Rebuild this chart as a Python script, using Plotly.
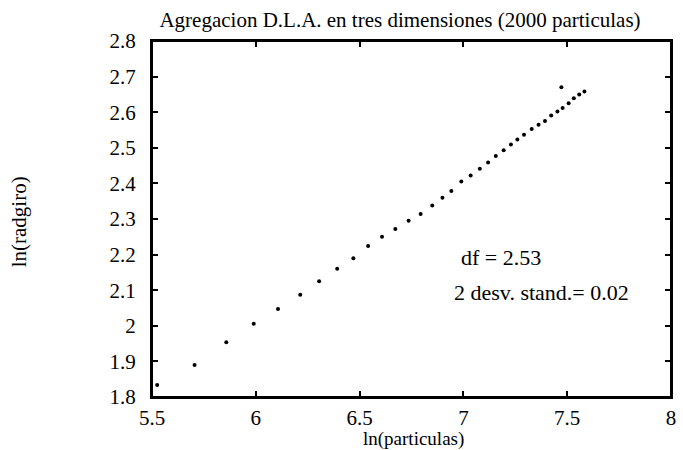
import plotly.graph_objects as go

# ln(particulas) and ln(radgiro)
ln_particulas = [5.525, 5.705, 5.858, 5.990, 6.107, 6.214, 6.305, 6.392, 6.470, 6.541,
                 6.608, 6.672, 6.736, 6.794, 6.850, 6.899, 6.942, 6.990, 7.035, 7.079,
                 7.119, 7.156, 7.194, 7.229, 7.260, 7.292, 7.329, 7.362, 7.393, 7.423,
                 7.453, 7.478, 7.507, 7.532, 7.558, 7.583, 7.472]
ln_radgiro = [1.834, 1.890, 1.954, 2.006, 2.047, 2.087, 2.125, 2.160, 2.190, 2.224,
              2.250, 2.272, 2.295, 2.314, 2.338, 2.360, 2.379, 2.405, 2.422, 2.441,
              2.459, 2.477, 2.493, 2.509, 2.523, 2.537, 2.553, 2.565, 2.575, 2.591,
              2.602, 2.612, 2.625, 2.639, 2.650, 2.658, 2.670]

x_ticks = [5.5, 6, 6.5, 7, 7.5, 8]
x_ticktext = ["5.5", "6", "6.5", "7", "7.5", "8"]
y_ticks = [1.8, 1.9, 2.0, 2.1, 2.2, 2.3, 2.4, 2.5, 2.6, 2.7, 2.8]
y_ticktext = ["1.8", "1.9", "2", "2.1", "2.2", "2.3", "2.4", "2.5", "2.6", "2.7", "2.8"]

title_text = "Agregacion D.L.A. en tres dimensiones (2000 particulas)"
x_title = "ln(particulas)"
y_title = "ln(radgiro)"
note_df = "df = 2.53"
note_sd = "2 desv. stand.= 0.02"

FONT = "Liberation Serif"
W, H = 683, 450
L, R, T, B = 152, 7, 41, 53
PW, PH = W - L - R, H - T - B


def fx(p):
    """pixel column -> paper fraction"""
    return (p - L) / PW


def fy(p):
    """pixel row -> paper fraction"""
    return (H - B - p) / PH


fig = go.Figure()
fig.add_trace(go.Scatter(
    x=ln_particulas, y=ln_radgiro, mode="markers",
    marker=dict(size=4, color="black"),
    showlegend=False, hoverinfo="x+y",
))

axis_common = dict(
    showgrid=False, zeroline=False, showline=True, linecolor="black", linewidth=2,
    mirror="ticks", ticks="inside", ticklen=6, tickwidth=2, tickcolor="black",
    tickfont=dict(family=FONT, size=21, color="black"),
)

fig.update_layout(
    width=W, height=H,
    margin=dict(l=L, r=R, t=T, b=B),
    paper_bgcolor="white", plot_bgcolor="white",
    font=dict(family=FONT, color="black"),
    title=dict(text=title_text, x=400 / W, xref="container", xanchor="center",
               y=1 - 20 / H, yref="container", yanchor="middle",
               font=dict(family=FONT, size=21, color="black")),
    xaxis=dict(range=[5.5, 8], tickvals=x_ticks, ticktext=x_ticktext,
               ticklabelstandoff=1, **axis_common),
    yaxis=dict(range=[1.8, 2.8], tickvals=y_ticks, ticktext=y_ticktext,
               ticklabelstandoff=10, **axis_common),
    shapes=[dict(type="rect", xref="paper", yref="paper", x0=0, x1=1, y0=0, y1=1,
                 line=dict(color="black", width=2), layer="above")],
    annotations=[
        dict(text=x_title, x=fx(416), y=fy(439), xref="paper", yref="paper",
             xanchor="center", yanchor="middle", showarrow=False,
             font=dict(family=FONT, size=19, color="black")),
        dict(text=y_title, x=fx(18), y=fy(222), xref="paper", yref="paper",
             xanchor="center", yanchor="middle", showarrow=False, textangle=-90,
             font=dict(family=FONT, size=21, color="black")),
        dict(text=note_df, x=fx(462), y=fy(257), xref="paper", yref="paper",
             xanchor="left", yanchor="middle", showarrow=False,
             font=dict(family=FONT, size=22, color="black")),
        dict(text=note_sd, x=fx(455), y=fy(292), xref="paper", yref="paper",
             xanchor="left", yanchor="middle", showarrow=False,
             font=dict(family=FONT, size=22, color="black")),
    ],
)

fig.write_html("out.html", config={"displayModeBar": False},
               post_script="document.body.style.margin='0';")
